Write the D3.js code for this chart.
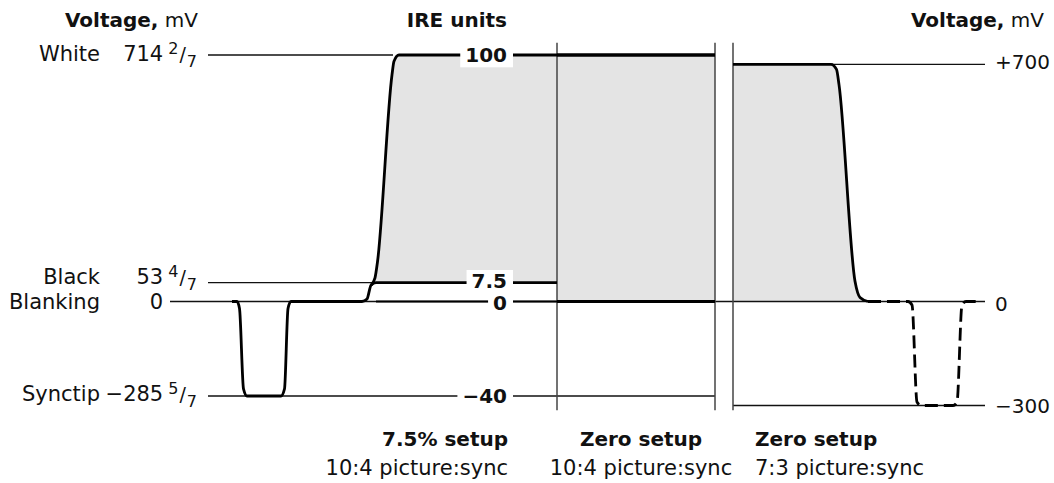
<!DOCTYPE html>
<html><head><meta charset="utf-8">
<script src="https://cdn.jsdelivr.net/npm/d3@7"></script>
<style>
html,body{margin:0;padding:0;background:#fff;}
svg{display:block;}
text{font-family:"DejaVu Sans", sans-serif; fill:#111;}
</style></head><body>
<svg id="chart" width="1054" height="483"></svg>
<script>
// ---------------- data ----------------
const levelNames   = ["White", "Black", "Blanking", "Synctip"];
const levelIRE     = [100, 7.5, 0, -40];
const levelMvInt   = ["714", "53", "0", "\u2212285"];
const levelMvNum   = ["2", "4", "", "5"];
const levelMvDen   = ["7", "7", "", "7"];
const ireTickLabels = ["100", "7.5", "0", "\u221240"];
const mvTicks      = [700, 0, -300];
const mvTickLabels = ["+700", "0", "\u2212300"];
const setupTitles  = ["7.5% setup", "Zero setup", "Zero setup"];
const setupRatios  = ["10:4 picture:sync", "10:4 picture:sync", "7:3 picture:sync"];

// waveforms: [time (arbitrary units), level]
// 7.5% setup, IRE
const syncAndBlack = [[6.0,0],[6.5,0],[6.75,-3],[7.15,-37],[7.5,-40],[10.9,-40],[11.25,-37],[11.6,-3],[11.9,0],
                      [19.0,0],[19.5,1],[19.9,6.5],[20.4,7.5],[38.5,7.5]];
const whiteEdge    = [[19.9,6.5],[20.3,9.5],[20.55,16],[22.0,92],[22.2,97.5],[22.7,100],[38.5,100],[54.3,100]];
const blankTail    = [[20.4,0],[38.5,0]];
// zero setup 10:4, IRE
const zeroTop      = [[38.5,100],[54.3,100]];
const zeroBase     = [[38.5,0],[54.3,0]];
// zero setup 7:3, mV
const mvWave       = [[56.1,700],[65.9,700],[66.45,685],[66.7,640],[68.3,60],[68.8,12],[69.6,0]];
const mvSyncDashed = [[69.6,0],[73.6,0],[74.0,-10],[74.5,-290],[74.9,-300],[78.1,-300],[78.5,-290],[79.0,-10],[79.4,0],[80.5,0]];

// reference (thin) lines: [from, to, level]
const ireRefLines = [[3.6,22.1,100],[3.6,20.0,7.5],[-0.2,81.3,0],[3.6,54.3,-40]];
const mvRefLines  = [[66.0,81.3,700],[56.1,81.3,-300]];
const dividers    = [38.5, 54.3, 56.1];

// ---------------- scales ----------------
const x    = d3.scaleLinear().domain([0, 81.3]).range([172, 985]);
const yIRE = d3.scaleLinear().domain([-40, 0, 7.5, 100]).range([396, 301.5, 282.7, 55]);
const yMV  = d3.scaleLinear().domain([-300, 0, 700]).range([405.5, 301.5, 64.3]);

const svg = d3.select("#chart");
const FILL = "#e4e4e4";

const lineIRE = d3.line().x(d => x(d[0])).y(d => yIRE(d[1])).curve(d3.curveMonotoneX);
const lineMV  = d3.line().x(d => x(d[0])).y(d => yMV(d[1])).curve(d3.curveMonotoneX);

// fills
svg.append("path")
  .attr("d", d3.area().x(d => x(d[0])).y0(yIRE(7.5)).y1(d => yIRE(d[1])).curve(d3.curveMonotoneX)(whiteEdge.slice(1, 7)))
  .attr("fill", FILL);
svg.append("path")
  .attr("d", d3.area().x(d => x(d[0])).y0(yIRE(0)).y1(d => yIRE(d[1]))(zeroTop))
  .attr("fill", FILL);
svg.append("path")
  .attr("d", d3.area().x(d => x(d[0])).y0(yMV(0)).y1(d => yMV(d[1])).curve(d3.curveMonotoneX)(mvWave))
  .attr("fill", FILL);

// thin reference lines
svg.selectAll(".ref-ire").data(ireRefLines).join("line")
  .attr("x1", d => x(d[0])).attr("x2", d => x(d[1]))
  .attr("y1", d => yIRE(d[2])).attr("y2", d => yIRE(d[2]))
  .attr("stroke", "#111").attr("stroke-width", 1.3);
svg.selectAll(".ref-mv").data(mvRefLines).join("line")
  .attr("x1", d => x(d[0])).attr("x2", d => x(d[1]))
  .attr("y1", d => yMV(d[2])).attr("y2", d => yMV(d[2]))
  .attr("stroke", "#111").attr("stroke-width", 1.3);

// dividers
svg.selectAll(".div").data(dividers).join("line")
  .attr("x1", d => x(d)).attr("x2", d => x(d))
  .attr("y1", yIRE(105)).attr("y2", yIRE(-46))
  .attr("stroke", "#444").attr("stroke-width", 1.5);

// thick waveforms
const thick = (d, gen, w, dash) => svg.append("path").attr("d", gen(d))
  .attr("fill", "none").attr("stroke", "#000").attr("stroke-width", w)
  .attr("stroke-linejoin", "round").attr("stroke-dasharray", dash || null);
thick(blankTail, lineIRE, 2);
thick(syncAndBlack, lineIRE, 2.8);
thick(whiteEdge, lineIRE, 2.8);
thick(zeroTop, lineIRE, 3);
thick(zeroBase, lineIRE, 3);
thick(mvWave, lineMV, 2.8);
thick(mvSyncDashed, lineMV, 2.8, "13,6");

// IRE tick labels with white boxes
const ireNudge = [0, -2, 1, 0];
const ireG = svg.append("g");
levelIRE.forEach((v, i) => {
  const t = ireG.append("text").attr("x", 507).attr("y", yIRE(v) + 7.3 + ireNudge[i])
    .attr("text-anchor", "end").attr("font-weight", "bold").attr("font-size", 20)
    .text(ireTickLabels[i]);
  const b = t.node().getBBox();
  ireG.insert("rect", "text").attr("x", b.x - 5).attr("y", b.y + 1).attr("width", b.width + 11)
    .attr("height", b.height - 1).attr("fill", "#fff");
});

// left labels (mV values)
const leftBase = [5.5, 1.5, 7.5, 4.5];
levelNames.forEach((n, i) => {
  const yb = yIRE(levelIRE[i]) + leftBase[i];
  svg.append("text").attr("x", 100).attr("y", yb).attr("text-anchor", "end")
    .attr("font-size", 21).text(n);
  const hasFrac = levelMvNum[i] !== "";
  const t = svg.append("text").attr("x", hasFrac ? 197 : 163).attr("y", yb)
    .attr("text-anchor", "end").attr("font-size", 21);
  t.append("tspan").text(levelMvInt[i]);
  if (hasFrac) {
    t.append("tspan").attr("dx", 5).attr("dy", -7).attr("font-size", 16).text(levelMvNum[i]);
    t.append("tspan").attr("dx", 1).attr("dy", 7).attr("font-size", 19).text("/");
    t.append("tspan").attr("dx", 1).attr("dy", 6).attr("font-size", 16).text(levelMvDen[i]);
  }
});

// right labels
const mvBase = [5, 9.5, 7.5];
mvTicks.forEach((v, i) => {
  svg.append("text").attr("x", 995).attr("y", yMV(v) + mvBase[i])
    .attr("font-size", 20).text(mvTickLabels[i]);
});

// titles
function voltageTitle(xEnd) {
  const t = svg.append("text").attr("x", xEnd).attr("y", 27).attr("text-anchor", "end").attr("font-size", 20);
  t.append("tspan").attr("font-weight", "bold").text("Voltage,");
  t.append("tspan").text(" mV");
}
voltageTitle(198);
voltageTitle(1044);
svg.append("text").attr("x", 507).attr("y", 27).attr("text-anchor", "end")
  .attr("font-weight", "bold").attr("font-size", 20).text("IRE units");

// bottom captions
const capX = [508, 641, 755];
const capAnchor = ["end", "middle", "start"];
setupTitles.forEach((s, i) => {
  svg.append("text").attr("x", capX[i]).attr("y", 446).attr("text-anchor", capAnchor[i])
    .attr("font-weight", "bold").attr("font-size", 20).text(s);
  svg.append("text").attr("x", capX[i]).attr("y", 475).attr("text-anchor", capAnchor[i])
    .attr("font-size", 21).text(setupRatios[i]);
});
</script>
</body></html>
